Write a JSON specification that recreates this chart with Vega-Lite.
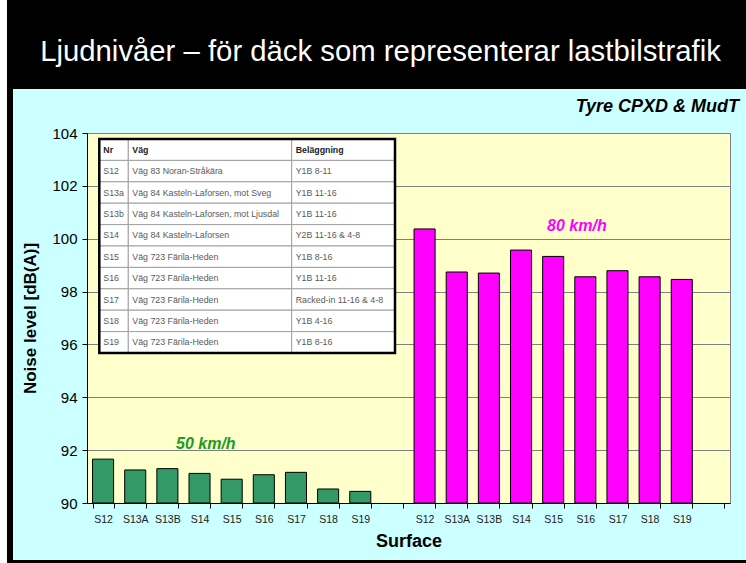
{
  "$schema": "https://vega.github.io/schema/vega-lite/v6.json",
  "background": "#ccffff",
  "padding": 0,
  "spacing": 0,
  "bounds": "flush",
  "align": "each",
  "columns": 5,
  "config": {"font": "Liberation Sans", "view": {"stroke": null}},
  "data": {"values": [{}]},
  "datasets": {
    "bars": [
      {"key": "50|S12", "surface": "S12", "speed": "50 km/h", "noise": 91.66},
      {"key": "50|S13A", "surface": "S13A", "speed": "50 km/h", "noise": 91.25},
      {"key": "50|S13B", "surface": "S13B", "speed": "50 km/h", "noise": 91.30},
      {"key": "50|S14", "surface": "S14", "speed": "50 km/h", "noise": 91.12},
      {"key": "50|S15", "surface": "S15", "speed": "50 km/h", "noise": 90.90},
      {"key": "50|S16", "surface": "S16", "speed": "50 km/h", "noise": 91.07},
      {"key": "50|S17", "surface": "S17", "speed": "50 km/h", "noise": 91.16},
      {"key": "50|S18", "surface": "S18", "speed": "50 km/h", "noise": 90.53},
      {"key": "50|S19", "surface": "S19", "speed": "50 km/h", "noise": 90.44},
      {"key": "80|S12", "surface": "S12", "speed": "80 km/h", "noise": 100.37},
      {"key": "80|S13A", "surface": "S13A", "speed": "80 km/h", "noise": 98.74},
      {"key": "80|S13B", "surface": "S13B", "speed": "80 km/h", "noise": 98.70},
      {"key": "80|S14", "surface": "S14", "speed": "80 km/h", "noise": 99.57},
      {"key": "80|S15", "surface": "S15", "speed": "80 km/h", "noise": 99.33},
      {"key": "80|S16", "surface": "S16", "speed": "80 km/h", "noise": 98.56},
      {"key": "80|S17", "surface": "S17", "speed": "80 km/h", "noise": 98.79},
      {"key": "80|S18", "surface": "S18", "speed": "80 km/h", "noise": 98.56},
      {"key": "80|S19", "surface": "S19", "speed": "80 km/h", "noise": 98.46}
    ],
    "cols": [
      {"col": "Nr", "x0": 0, "x1": 29},
      {"col": "Väg", "x0": 29, "x1": 192.4},
      {"col": "Beläggning", "x0": 192.4, "x1": 295.7}
    ],
    "rows": [
      {"Nr": "S12", "Väg": "Väg 83 Noran-Stråkära", "Beläggning": "Y1B 8-11"},
      {"Nr": "S13a", "Väg": "Väg 84 Kasteln-Laforsen, mot Sveg", "Beläggning": "Y1B 11-16"},
      {"Nr": "S13b", "Väg": "Väg 84 Kasteln-Laforsen, mot Ljusdal", "Beläggning": "Y1B 11-16"},
      {"Nr": "S14", "Väg": "Väg 84 Kasteln-Laforsen", "Beläggning": "Y2B 11-16 & 4-8"},
      {"Nr": "S15", "Väg": "Väg 723 Färila-Heden", "Beläggning": "Y1B 8-16"},
      {"Nr": "S16", "Väg": "Väg 723 Färila-Heden", "Beläggning": "Y1B 11-16"},
      {"Nr": "S17", "Väg": "Väg 723 Färila-Heden", "Beläggning": "Racked-in 11-16 & 4-8"},
      {"Nr": "S18", "Väg": "Väg 723 Färila-Heden", "Beläggning": "Y1B 4-16"},
      {"Nr": "S19", "Väg": "Väg 723 Färila-Heden", "Beläggning": "Y1B 8-16"}
    ]
  },
  "concat": [
    {"width": 7, "height": 89, "view": {"fill": "#ffffff"}, "mark": "text", "encoding": {"text": {"value": ""}}},
    {"width": 6, "height": 89, "view": {"fill": "#000000"}, "mark": "text", "encoding": {"text": {"value": ""}}},
    {"width": 74, "height": 89, "view": {"fill": "#000000"}, "mark": "text", "encoding": {"text": {"value": ""}}},
    {
      "width": 643, "height": 89,
      "view": {"fill": "#000000"},
      "data": {"values": [{"t": "Ljudnivåer – för däck som representerar lastbilstrafik"}]},
      "mark": {"type": "text", "color": "#ffffff", "fontSize": 29.3, "baseline": "alphabetic", "dy": 16.5, "dx": -28},
      "encoding": {"text": {"field": "t"}}
    },
    {"width": 16, "height": 89, "view": {"fill": "#000000"}, "mark": "text", "encoding": {"text": {"value": ""}}},

    {"width": 7, "height": 44, "view": {"fill": "#ffffff"}, "mark": "text", "encoding": {"text": {"value": ""}}},
    {"width": 6, "height": 44, "view": {"fill": "#000000"}, "mark": "text", "encoding": {"text": {"value": ""}}},
    {"width": 74, "height": 44, "mark": "text", "encoding": {"text": {"value": ""}}},
    {
      "width": 643, "height": 44,
      "data": {"values": [{"t": "Tyre CPXD & MudT"}]},
      "mark": {"type": "text", "align": "right", "baseline": "alphabetic", "dx": 330.5, "dy": 1, "fontSize": 18, "fontStyle": "italic", "fontWeight": "bold", "color": "#000000"},
      "encoding": {"text": {"field": "t"}}
    },
    {"width": 16, "height": 44, "mark": "text", "encoding": {"text": {"value": ""}}},

    {"width": 7, "height": 370, "view": {"fill": "#ffffff"}, "mark": "text", "encoding": {"text": {"value": ""}}},
    {"width": 6, "height": 370, "view": {"fill": "#000000"}, "mark": "text", "encoding": {"text": {"value": ""}}},
    {"width": 74, "height": 370, "mark": "text", "encoding": {"text": {"value": ""}}},
    {
      "width": 643, "height": 370,
      "view": {"fill": "#ffffcc", "stroke": "#808080"},
      "layer": [
        {
          "layer": [
            {
              "data": {"name": "bars"},
              "mark": {"type": "bar", "stroke": "#000000", "strokeWidth": 1},
              "encoding": {
                "x": {
                  "field": "key", "type": "nominal", "sort": null,
                  "scale": {
                    "domain": ["50|S12", "50|S13A", "50|S13B", "50|S14", "50|S15", "50|S16", "50|S17", "50|S18", "50|S19", "50|",
                               "80|S12", "80|S13A", "80|S13B", "80|S14", "80|S15", "80|S16", "80|S17", "80|S18", "80|S19", "80|"],
                    "paddingInner": 0.345, "paddingOuter": 0.1725
                  },
                  "axis": {
                    "title": "Surface", "labelExpr": "split(datum.value, '|')[1]",
                    "tickBand": "extent", "labelAngle": 0, "grid": false,
                    "domainColor": "#000000", "tickColor": "#000000", "tickSize": 5,
                    "labelFontSize": 10.5, "labelColor": "#222222", "labelPadding": 6,
                    "titleFontSize": 18, "titleFontWeight": "bold", "titleColor": "#000000", "titlePadding": 8
                  }
                },
                "y": {
                  "field": "noise", "type": "quantitative",
                  "scale": {"domain": [90, 104], "nice": false, "zero": false},
                  "axis": {
                    "title": "Noise level [dB(A)]",
                    "values": [90, 91, 92, 93, 94, 95, 96, 97, 98, 99, 100, 101, 102, 103, 104],
                    "labelExpr": "datum.value % 2 === 0 ? datum.label : ''",
                    "grid": true, "gridColor": "#808080",
                    "gridOpacity": {"condition": {"test": "datum.value % 2 === 1", "value": 0}, "value": 1},
                    "tickSize": {"condition": {"test": "datum.value % 2 === 1", "value": -4}, "value": 5},
                    "domainColor": "#000000", "tickColor": "#000000",
                    "labelFontSize": 15, "labelColor": "#000000", "labelPadding": 5,
                    "titleFontSize": 17, "titleFontWeight": "bold", "titleColor": "#000000", "titlePadding": 12
                  }
                },
                "y2": {"datum": 90},
                "color": {
                  "field": "speed", "type": "nominal",
                  "scale": {"domain": ["50 km/h", "80 km/h"], "range": ["#339966", "#ff00ff"]},
                  "legend": null
                }
              }
            },
            {
              "data": {"values": [{"label": "50 km/h"}]},
              "mark": {"type": "text", "fontSize": 16, "fontWeight": "bold", "fontStyle": "italic", "color": "#229922", "align": "center", "baseline": "middle"},
              "encoding": {
                "x": {"datum": "50|S14", "type": "nominal", "bandPosition": 0.8},
                "y": {"datum": 92.23, "type": "quantitative"},
                "text": {"field": "label"}
              }
            },
            {
              "data": {"values": [{"label": "80 km/h"}]},
              "mark": {"type": "text", "fontSize": 16, "fontWeight": "bold", "fontStyle": "italic", "color": "#ff00ff", "align": "center", "baseline": "middle"},
              "encoding": {
                "x": {"datum": "80|S16", "type": "nominal", "bandPosition": 0.1},
                "y": {"datum": 100.48, "type": "quantitative"},
                "text": {"field": "label"}
              }
            }
          ]
        },
        {
          "encoding": {
            "x": {"type": "quantitative", "scale": {"domain": [0, 295.7], "range": [12.3, 308], "nice": false, "zero": false}, "axis": null},
            "y": {"type": "nominal", "scale": {"type": "band", "domain": ["hdr", "S12", "S13a", "S13b", "S14", "S15", "S16", "S17", "S18", "S19"], "range": [6, 220], "paddingInner": 0, "paddingOuter": 0}, "axis": null}
          },
          "layer": [
            {
              "data": {"name": "cols"},
              "mark": {"type": "rect", "fill": "#ffffff", "stroke": "#a0a0a0", "strokeWidth": 1},
              "encoding": {
                "x": {"field": "x0", "type": "quantitative"},
                "x2": {"field": "x1"},
                "y": {"datum": "hdr", "type": "nominal"}
              }
            },
            {
              "data": {"name": "rows"},
              "transform": [
                {"fold": ["Nr", "Väg", "Beläggning"], "as": ["col", "text"]},
                {"lookup": "col", "from": {"data": {"name": "cols"}, "key": "col", "fields": ["x0", "x1"]}}
              ],
              "layer": [
                {
                  "mark": {"type": "rect", "fill": "#ffffff", "stroke": "#a0a0a0", "strokeWidth": 1},
                  "encoding": {
                    "x": {"field": "x0", "type": "quantitative"},
                    "x2": {"field": "x1"},
                    "y": {"field": "Nr", "type": "nominal"}
                  }
                },
                {
                  "mark": {"type": "text", "align": "left", "baseline": "middle", "dx": 4, "fontSize": 8.8, "color": "#5a5a5a"},
                  "encoding": {
                    "x": {"field": "x0", "type": "quantitative"},
                    "y": {"field": "Nr", "type": "nominal"},
                    "text": {"field": "text"}
                  }
                }
              ]
            },
            {
              "data": {"name": "cols"},
              "mark": {"type": "text", "align": "left", "baseline": "middle", "dx": 4, "fontSize": 8.8, "fontWeight": "bold", "color": "#222222"},
              "encoding": {
                "x": {"field": "x0", "type": "quantitative"},
                "y": {"datum": "hdr", "type": "nominal"},
                "text": {"field": "col"}
              }
            },
            {
              "mark": {"type": "rect", "fill": null, "filled": false, "stroke": "#000000", "strokeWidth": 2.5},
              "encoding": {
                "x": {"datum": 0, "type": "quantitative"},
                "x2": {"datum": 295.7},
                "y": {"datum": "hdr", "type": "nominal", "bandPosition": 0},
                "y2": {"datum": "S19", "bandPosition": 1}
              }
            }
          ]
        }
      ],
      "resolve": {"scale": {"x": "independent", "y": "independent"}, "axis": {"x": "independent", "y": "independent"}}
    },
    {"width": 16, "height": 370, "mark": "text", "encoding": {"text": {"value": ""}}},

    {"width": 7, "height": 57, "view": {"fill": "#ffffff"}, "mark": "text", "encoding": {"text": {"value": ""}}},
    {"width": 6, "height": 57, "view": {"fill": "#000000"}, "mark": "text", "encoding": {"text": {"value": ""}}},
    {"width": 74, "height": 57, "mark": "text", "encoding": {"text": {"value": ""}}},
    {"width": 643, "height": 57, "mark": "text", "encoding": {"text": {"value": ""}}},
    {"width": 16, "height": 57, "mark": "text", "encoding": {"text": {"value": ""}}},

    {"width": 7, "height": 3, "view": {"fill": "#ffffff"}, "mark": "text", "encoding": {"text": {"value": ""}}},
    {"width": 6, "height": 3, "view": {"fill": "#000000"}, "mark": "text", "encoding": {"text": {"value": ""}}},
    {"width": 74, "height": 3, "view": {"fill": "#000000"}, "mark": "text", "encoding": {"text": {"value": ""}}},
    {"width": 643, "height": 3, "view": {"fill": "#000000"}, "mark": "text", "encoding": {"text": {"value": ""}}},
    {"width": 16, "height": 3, "view": {"fill": "#000000"}, "mark": "text", "encoding": {"text": {"value": ""}}}
  ]
}
